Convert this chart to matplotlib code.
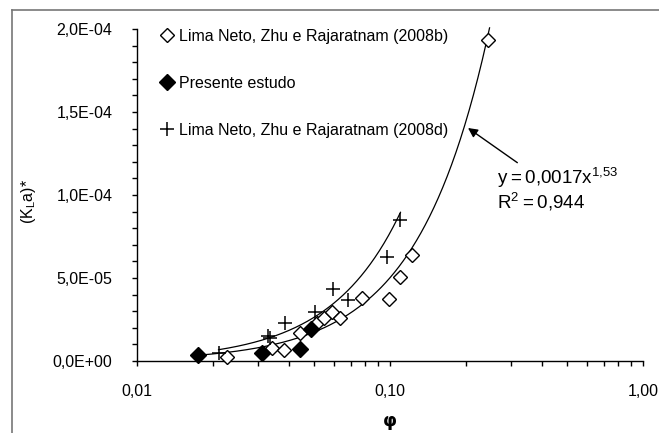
import numpy as np
import matplotlib
matplotlib.use("Agg")
import matplotlib.pyplot as plt
from matplotlib.lines import Line2D

plt.rcParams['font.family'] = ['Liberation Sans', 'DejaVu Sans']
plt.rcParams['mathtext.default'] = 'regular'

# Lima Neto, Zhu e Rajaratnam (2008b) - open diamonds
phi_b = [0.0227, 0.0342, 0.0380, 0.0442, 0.0515, 0.0547, 0.0590, 0.0637,
         0.0776, 0.0989, 0.110, 0.1224, 0.245]
kla_b = [2.6e-6, 7.6e-6, 6.6e-6, 1.67e-5, 2.27e-5, 2.57e-5, 2.97e-5, 2.57e-5,
         3.78e-5, 3.72e-5, 5.08e-5, 6.39e-5, 1.934e-4]

# Presente estudo - filled diamonds
phi_p = [0.0175, 0.0312, 0.0439, 0.0488]
kla_p = [3.6e-6, 4.6e-6, 7.0e-6, 1.91e-5]

# Lima Neto, Zhu e Rajaratnam (2008d) - crosses
phi_d = [0.0210, 0.0330, 0.0336, 0.0386, 0.0507, 0.0596, 0.0685, 0.0975, 0.110]
kla_d = [5.0e-6, 1.50e-5, 1.40e-5, 2.31e-5, 2.97e-5, 4.32e-5, 3.67e-5, 6.28e-5, 8.49e-5]

# power trendline quoted in the chart
coef_a, coef_b = 0.0017, 1.53

xticks = [0.01, 0.1, 1.0]
xtick_labels = ['0,01', '0,10', '1,00']
yticks = [0, 5e-5, 1e-4, 1.5e-4, 2e-4]
ytick_labels = ['0,0E+00', '5,0E-05', '1,0E-04', '1,5E-04', '2,0E-04']

fig = plt.figure(figsize=(6.59, 4.33), dpi=100)
ax = fig.add_axes([137/659, 72/433, 506/659, 332/433])

# trendlines
x_all = np.array(phi_b + phi_p)
xs = np.geomspace(x_all.min(), x_all.max() * 1.01, 200)
ax.plot(xs, coef_a * xs ** coef_b, color='black', lw=0.9, clip_on=False, zorder=2)

pd_fit = np.polyfit(np.log(phi_d), np.log(kla_d), 1)
xs2 = np.geomspace(min(phi_d), max(phi_d), 200)
ax.plot(xs2, np.exp(pd_fit[1]) * xs2 ** pd_fit[0], color='black', lw=0.9, zorder=2)

ax.plot(phi_b, kla_b, 'D', ms=7.5, mfc='white', mec='black', mew=1.0,
        ls='none', label='Lima Neto, Zhu e Rajaratnam (2008b)', zorder=3, clip_on=False)
ax.plot(phi_p, kla_p, 'D', ms=8, mfc='black', mec='black',
        ls='none', label='Presente estudo', zorder=4, clip_on=False)
ax.plot(phi_d, kla_d, '+', ms=10.5, mec='black', mew=1.1,
        ls='none', label='Lima Neto, Zhu e Rajaratnam (2008d)', zorder=5, clip_on=False)

ax.set_xscale('log')
ax.set_xlim(0.01, 1.0)
ax.set_ylim(0, 2e-4)
ax.set_xticks(xticks)
ax.set_xticklabels(xtick_labels)
ax.set_yticks(yticks)
ax.set_yticklabels(ytick_labels)
ax.set_yticks(np.arange(0, 2.01e-4, 1e-5), minor=True)
ax.xaxis.set_minor_formatter(matplotlib.ticker.NullFormatter())
ax.tick_params(which='both', direction='out', length=3.6, width=1, labelsize=11.5,
               colors='black')
ax.tick_params(axis='x', pad=13)
ax.tick_params(axis='y', pad=14)
for s in ['top', 'right']:
    ax.spines[s].set_visible(False)
for s in ['left', 'bottom']:
    ax.spines[s].set_linewidth(1)

ax.set_ylabel('$(K_La)$*', fontsize=11.5)
ax.yaxis.set_label_coords(-99/506, 0.48)
ax.set_xlabel('φ', fontsize=13, fontweight='bold', family='DejaVu Sans')
ax.xaxis.set_label_coords(0.5, -51/332)

ax.legend(loc='upper left', bbox_to_anchor=(161/659, 1 - 29/433), bbox_transform=fig.transFigure,
          frameon=False, fontsize=11.5, handlelength=0.7, handletextpad=0.4,
          labelspacing=2.0, borderpad=0, borderaxespad=0)

ax.annotate('y$=$0,0017x$^{1{,}53}$\nR$^2$$=$0,944', xy=(468/659, 1 - 128/433),
            xycoords='figure fraction', xytext=(497/659, 1 - 189/433),
            textcoords='figure fraction', fontsize=13.5, ha='left', va='center',
            linespacing=1.05,
            arrowprops=dict(arrowstyle='-|>', color='black', lw=1, mutation_scale=14,
                            shrinkA=0, shrinkB=0, relpos=(0.2, 1.0)))

# outer frame lines (top and left)
fig.add_artist(Line2D([12/659, 1], [1 - 10/433, 1 - 10/433], color='#777777', lw=1.2,
                      transform=fig.transFigure))
fig.add_artist(Line2D([12/659, 12/659], [0, 1 - 10/433], color='#777777', lw=1.2,
                      transform=fig.transFigure))

fig.savefig('out.png', dpi=100)
